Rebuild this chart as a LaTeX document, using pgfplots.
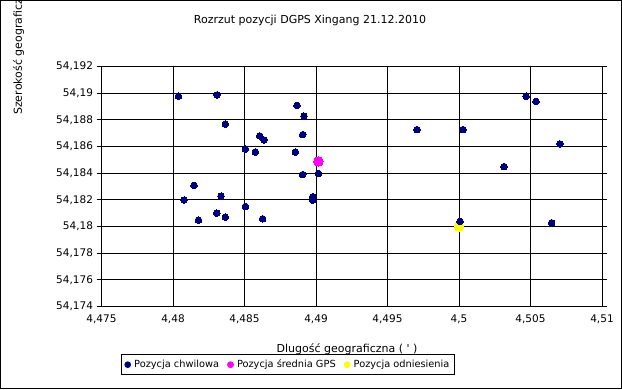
\documentclass[border=0pt]{standalone}
\usepackage{pgfplots}
\pgfplotsset{compat=1.18}
\usepackage{fontspec}
\setmainfont{DejaVu Sans}
\definecolor{ptblue}{RGB}{0,0,128}
\definecolor{ptmag}{RGB}{255,0,255}
\definecolor{ptyel}{RGB}{255,255,0}
\pgfplotstableread{
x y
4.48038 54.18977
4.48308 54.18987
4.48867 54.18908
4.48916 54.18827
4.48366 54.18767
4.48606 54.18679
4.48636 54.18649
4.48907 54.18689
4.48506 54.18581
4.48576 54.18559
4.48856 54.18559
4.48907 54.18389
4.49017 54.18398
4.48147 54.18308
4.48077 54.18198
4.48336 54.18228
4.48977 54.18223
4.48977 54.18198
4.48506 54.18150
4.48306 54.18100
4.48366 54.18070
4.48178 54.18047
4.48627 54.18058
4.50469 54.18977
4.50538 54.18938
4.49706 54.18727
4.50028 54.18727
4.50706 54.18619
4.50315 54.18449
4.50007 54.18038
4.50648 54.18028
}\chwilowa
\pgfplotstableread{
x y
4.49017 54.18489
}\srednia
\pgfplotstableread{
x y
4.5 54.18
}\odniesienia
\begin{document}
\begin{tikzpicture}
\useasboundingbox (0pt,0pt) rectangle (622pt,389pt);
\fill[white] (0pt,0pt) rectangle (622pt,389pt);
\begin{scope}
\clip (0pt,0pt) rectangle (622pt,389pt);
\begin{axis}[
  at={(101.5pt,82.5pt)}, anchor=south west,
  scale only axis, width=500.5pt, height=240pt,
  xmin=4.475, xmax=4.51, ymin=54.174, ymax=54.192,
  xtick={4.475,4.48,4.485,4.49,4.495,4.5,4.505,4.51},
  ytick={54.174,54.176,54.178,54.18,54.182,54.184,54.186,54.188,54.19,54.192},
  grid=major,
  major grid style={black, line width=1pt},
  axis line style={black, line width=1pt},
  tick style={black, line width=1pt},
  tick align=outside,
  xtick style={draw=none},
  major tick length=5pt,
  /pgf/number format/.cd, fixed, precision=3, use comma, 1000 sep={}, assume math mode=true,
  /pgfplots/.cd,
  ticklabel style={font=\fontsize{10.5}{12}\selectfont},
  title={Rozrzut pozycji DGPS Xingang 21.12.2010},
  title style={at={(rel axis cs:0.4166,1.155)}, anchor=base, inner sep=0pt, font=\fontsize{11}{13}\selectfont},
  xlabel={Dlugość geograficzna ( \textquotesingle{} )},
  xlabel style={at={(rel axis cs:0.4905,-0.1908)}, anchor=base, inner sep=0pt, font=\fontsize{11}{13}\selectfont},
  ylabel={Szerokość geograficzna},
  ylabel style={at={(rel axis cs:-0.1658,0.7979)}, anchor=west, inner sep=0pt, rotate=0, font=\fontsize{11}{13}\selectfont},
  legend columns=3,
  legend style={at={(rel axis cs:0.0384,-0.198)}, anchor=north west, draw=black, line width=1pt,
    font=\fontsize{9.8}{11}\selectfont, inner xsep=3pt, inner ysep=3.5pt,
    /tikz/every even column/.append style={column sep=6pt}},
  legend cell align=left,
]
\addplot[forget plot, only marks, mark=*, mark size=4.8pt, mark options={draw=ptyel, fill=ptyel, line width=0pt}]
  table[x=x,y=y] {\odniesienia};
\addplot[only marks, mark=*, mark size=3.3pt, mark options={draw=ptblue, fill=ptblue, line width=0pt},
  legend image code/.code={\fill[ptblue] (3.5pt,0) circle (2.8pt); \path[draw=none,fill=none] (0pt,0pt) -- (8pt,0pt);}] table[x=x,y=y] {\chwilowa};
\addlegendentry{Pozycja chwilowa}
\addplot[only marks, mark=*, mark size=4.8pt, mark options={draw=ptmag, fill=ptmag, line width=0pt},
  legend image code/.code={\fill[ptmag] (3.5pt,0) circle (2.9pt); \path[draw=none,fill=none] (0pt,0pt) -- (8pt,0pt);}] table[x=x,y=y] {\srednia};
\addlegendentry{Pozycja średnia GPS}
\addlegendimage{only marks, legend image code/.code={\fill[ptyel] (3.5pt,0) circle (2.9pt); \path[draw=none,fill=none] (0pt,0pt) -- (8pt,0pt);}}
\addlegendentry{Pozycja odniesienia}
\end{axis}
\end{scope}
\draw[black, line width=1pt] (0.5pt,0.5pt) rectangle (621.5pt,388.5pt);
\end{tikzpicture}
\end{document}
